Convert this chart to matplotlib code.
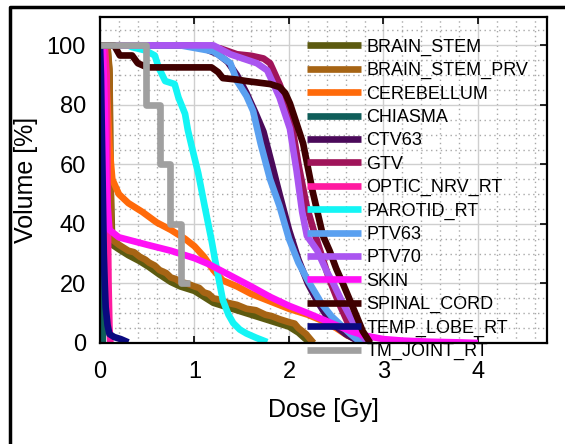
import matplotlib
matplotlib.use("Agg")
import matplotlib.pyplot as plt
from matplotlib.lines import Line2D
from matplotlib.ticker import MultipleLocator

plt.rcParams['font.family'] = ['Liberation Sans', 'DejaVu Sans']

# DVH curves (dose in Gy, volume in %)
brain_stem_dose = [0, 0.08, 0.1, 0.11, 0.13, 0.2, 0.3, 0.42, 0.52, 0.63, 0.75, 0.85, 1.0, 1.1, 1.2,
                   1.35, 1.55, 1.75, 1.9, 2.0, 2.1, 2.17, 2.23]
brain_stem_vol = [100, 99, 90, 55, 33, 31.5, 29.5, 27.5, 25.5, 23, 20.5, 19, 17.5, 15.5, 13.5,
                  12, 10, 8, 6.5, 5.5, 3.5, 1.5, 0]

brain_stem_prv_dose = [0, 0.08, 0.1, 0.11, 0.12, 0.2, 0.3, 0.36, 0.42, 0.48, 0.52, 0.58, 0.63, 0.7,
                       0.75, 0.8, 0.85, 0.92, 1.0, 1.05, 1.1, 1.15, 1.2, 1.28, 1.35, 1.45, 1.55,
                       1.65, 1.75, 1.82, 1.9, 2.0, 2.06, 2.1, 2.14, 2.18, 2.22, 2.26]
brain_stem_prv_vol = [100, 99, 92, 60, 35, 33, 31, 30.5, 29, 28, 27, 26, 24.5, 23.5,
                      22, 21.5, 20.5, 20, 19, 18.5, 17, 16.5, 15, 14.5, 13.5, 12.8, 11.5,
                      11, 9.5, 9, 8, 7, 6.5, 5, 4, 3, 1.5, 0]

cerebellum_dose = [0, 0.05, 0.08, 0.1, 0.13, 0.2, 0.3, 0.45, 0.6, 0.75, 0.9, 1.0, 1.1, 1.2, 1.3,
                   1.45, 1.6, 1.8, 2.0, 2.2, 2.35, 2.5, 2.62, 2.75, 2.85]
cerebellum_vol = [100, 99, 80, 66, 55, 50, 47, 44, 40.5, 38, 35, 32.5, 29, 24.5, 21,
                  19, 16.5, 14, 11.5, 9.5, 7.5, 5, 2.5, 0.8, 0]

chiasma_dose = [0, 0.01, 0.02, 0.03]
chiasma_vol = [100, 99, 50, 0]

ctv63_dose = [0, 0.9, 1.1, 1.25, 1.35, 1.45, 1.55, 1.65, 1.73, 1.82, 1.9, 2.0, 2.1, 2.2, 2.3,
              2.4, 2.5, 2.6, 2.7, 2.8]
ctv63_vol = [100, 100, 99, 97, 94.5, 90, 84, 77, 71, 60, 50, 38, 28, 20, 14,
             9, 5.5, 3, 1.2, 0]

gtv_dose = [0, 1.0, 1.27, 1.45, 1.6, 1.73, 1.8, 1.9, 1.98, 2.04, 2.1, 2.19, 2.26, 2.33, 2.42,
            2.52, 2.62, 2.72, 2.8]
gtv_vol = [100, 100, 99, 97, 96.5, 95.6, 94, 87, 80.5, 71.5, 60, 45.6, 38, 31, 22,
           14, 7, 2, 0]

optic_nrv_rt_dose = [0, 0.05, 0.07, 0.08, 0.09, 0.1, 0.11]
optic_nrv_rt_vol = [100, 99.5, 90, 50, 20, 5, 0]

parotid_rt_dose = [0, 0.3, 0.34, 0.48, 0.58, 0.62, 0.69, 0.79, 0.83, 0.9, 0.93, 0.98, 1.04,
                   1.11, 1.18, 1.22, 1.26, 1.3, 1.36, 1.41, 1.48, 1.55, 1.65, 1.77]
parotid_rt_vol = [100, 100, 99.4, 98.3, 96.6, 92.6, 88, 87, 82.5, 77, 71.5, 64.8, 57,
                  45.6, 34.6, 27.5, 21, 14.4, 9.5, 6.7, 4.5, 3.2, 1.8, 0.3]

ptv63_dose = [0, 0.85, 1.2, 1.38, 1.45, 1.55, 1.62, 1.7, 1.8, 1.9, 2.0, 2.1, 2.2, 2.35, 2.45,
              2.55, 2.65, 2.72, 2.8]
ptv63_vol = [100, 100, 98, 94, 88, 83, 78, 67, 55, 46, 35, 27, 21, 13, 9,
             6, 3, 1.2, 0.3]

ptv70_dose = [0, 1.2, 1.38, 1.66, 1.77, 1.9, 2.01, 2.08, 2.14, 2.19, 2.3, 2.4, 2.47, 2.56,
              2.65, 2.72, 2.78, 2.85]
ptv70_vol = [100, 100, 97, 94, 91.6, 82.5, 72, 58, 44, 36, 31, 24, 20, 14,
             8.7, 4.5, 2, 0]

skin_dose = [0, 0.03, 0.05, 0.07, 0.1, 0.2, 0.5, 0.75, 1.0, 1.15, 1.3, 1.45, 1.6, 1.8, 2.0,
             2.2, 2.35, 2.5, 2.65, 2.8, 3.0, 3.2, 3.5, 3.8, 4.0]
skin_vol = [100, 99, 80, 50, 38, 35.5, 33, 31, 28.5, 26.5, 24, 21.5, 19, 15.5, 12.5,
            10, 8, 6, 4, 2.5, 1.3, 0.8, 0.4, 0.2, 0]

spinal_cord_dose = [0, 0.15, 0.18, 0.21, 0.34, 0.4, 0.5, 0.85, 1.18, 1.25, 1.3, 1.45, 1.55,
                    1.8, 1.9, 1.96, 2.01, 2.08, 2.15, 2.25, 2.36, 2.43, 2.5, 2.57, 2.65, 2.72,
                    2.78, 2.82, 2.86]
spinal_cord_vol = [100, 100, 98.3, 96.6, 96.6, 94, 92.6, 92.6, 92.6, 91, 89, 88.5, 88,
                   87, 86, 84, 80.5, 73.8, 67, 51, 36, 31, 25, 20, 14, 8.7,
                   4, 2, 0]

temp_lobe_rt_dose = [0, 0.01, 0.02, 0.03, 0.04, 0.05, 0.06, 0.08, 0.1, 0.15, 0.22, 0.3]
temp_lobe_rt_vol = [100, 90, 70, 50, 30, 20, 12, 6, 3, 2, 1.3, 0.2]

tm_joint_rt_dose = [0, 0.49, 0.49, 0.635, 0.635, 0.74, 0.74, 0.86, 0.86, 0.95]
tm_joint_rt_vol = [100, 100, 80, 80, 60, 60, 40, 40, 20, 20]

names = ['BRAIN_STEM', 'BRAIN_STEM_PRV', 'CEREBELLUM', 'CHIASMA', 'CTV63', 'GTV',
         'OPTIC_NRV_RT', 'PAROTID_RT', 'PTV63', 'PTV70', 'SKIN', 'SPINAL_CORD',
         'TEMP_LOBE_RT', 'TM_JOINT_RT']
colors = ['#5c5a10', '#a66414', '#ff6a0a', '#0f5e5a', '#4b0a5a', '#a0145a',
          '#ff1aa0', '#14f5f5', '#5aa0f0', '#aa55f0', '#ff10f5', '#400000',
          '#0a0a80', '#a0a0a0']
doses = [brain_stem_dose, brain_stem_prv_dose, cerebellum_dose, chiasma_dose, ctv63_dose,
         gtv_dose, optic_nrv_rt_dose, parotid_rt_dose, ptv63_dose, ptv70_dose, skin_dose,
         spinal_cord_dose, temp_lobe_rt_dose, tm_joint_rt_dose]
vols = [brain_stem_vol, brain_stem_prv_vol, cerebellum_vol, chiasma_vol, ctv63_vol,
        gtv_vol, optic_nrv_rt_vol, parotid_rt_vol, ptv63_vol, ptv70_vol, skin_vol,
        spinal_cord_vol, temp_lobe_rt_vol, tm_joint_rt_vol]

fig = plt.figure(figsize=(5.65, 4.44), dpi=100)
ax = fig.add_axes([0.177, 0.2275, 0.791, 0.734])

for d, v, c, n in zip(doses, vols, colors, names):
    ax.plot(d, v, color=c, lw=4.8, label=n, solid_capstyle='butt')

ax.set_xlim(0, 4.73)
ax.set_ylim(0, 109.5)
ax.xaxis.set_major_locator(MultipleLocator(1))
ax.xaxis.set_minor_locator(MultipleLocator(0.2))
ax.yaxis.set_major_locator(MultipleLocator(20))
ax.yaxis.set_minor_locator(MultipleLocator(5))
ax.grid(which='major', color='#cfcfcf', lw=1.0, ls='-')
ax.grid(which='minor', color='#a8a8a8', lw=1.0, ls=(0, (1, 2.5)))
ax.set_axisbelow(True)
ax.tick_params(which='major', direction='in', length=5, width=1.2, top=True, right=True,
               labelsize=17)
ax.tick_params(axis='x', which='major', pad=13)
ax.tick_params(axis='y', which='major', pad=10)
ax.tick_params(which='minor', length=0)
for s in ax.spines.values():
    s.set_linewidth(1.6)

ax.set_xlabel('Dose [Gy]', fontsize=18, labelpad=11)
ax.set_ylabel('Volume [%]', fontsize=18, labelpad=6)

ax.legend(loc='upper left', bbox_to_anchor=(0.543, 0.913), bbox_transform=fig.transFigure,
          frameon=False, fontsize=13, handlelength=3.0, handletextpad=0.3,
          labelspacing=0.35, borderpad=0, borderaxespad=0)

# black frame around the figure (cut off at right and bottom)
fig.add_artist(Line2D([10 / 565, 10 / 565, 1.0], [0.0, 1 - 7 / 444, 1 - 7 / 444],
                      transform=fig.transFigure, color='black', lw=2.5))

fig.savefig('out.png', dpi=100)
